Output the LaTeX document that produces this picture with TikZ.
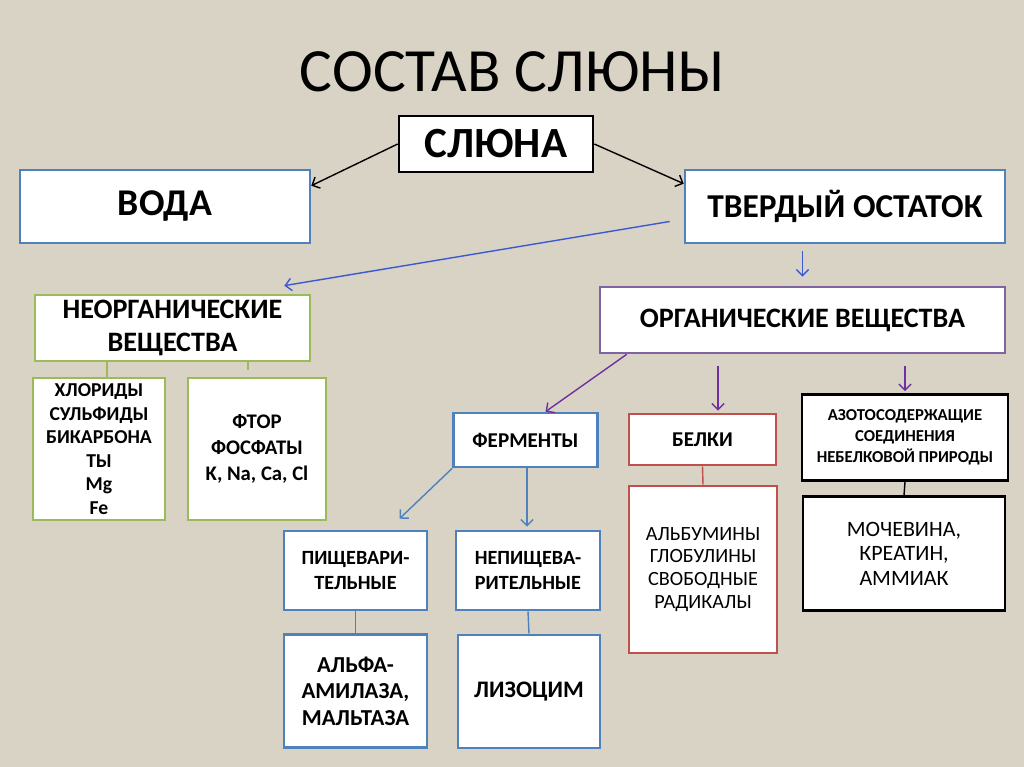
\documentclass[tikz,border=0pt]{standalone}
\usepackage{fontspec}
\setmainfont{Carlito}
\usepackage{xcolor}
\usetikzlibrary{arrows.meta}

\definecolor{paper}{RGB}{217,211,197}
\definecolor{boxblue}{RGB}{79,129,189}
\definecolor{boxgreen}{RGB}{155,187,89}
\definecolor{boxpurple}{RGB}{128,100,162}
\definecolor{boxred}{RGB}{192,80,77}
\definecolor{linkblue}{RGB}{59,89,212}
\definecolor{linkpurple}{RGB}{112,48,160}

\newcommand{\fsz}[2]{\fontsize{#1}{#2}\selectfont}

\begin{document}
\begin{tikzpicture}[
  x=0.02cm, y=-0.02cm,
  every node/.style={align=center},
  box/.style={draw, fill=white, line width=1.5pt, inner sep=2pt},
  blackbox/.style={box, draw=black},
  bluebox/.style={box, draw=boxblue},
  greenbox/.style={box, draw=boxgreen},
  purplebox/.style={box, draw=boxpurple},
  redbox/.style={box, draw=boxred},
  link/.style={line width=0.8pt},
  >={Straight Barb[length=3.5pt,width=7pt]}
]

\fill[paper] (0,0) rectangle (1024,767);
\useasboundingbox (0,0) rectangle (1024,767);

\node (title) [font=\fsz{35}{40}] at (512,72) {СОСТАВ СЛЮНЫ};

% Top row
\node (saliva) [blackbox, minimum width=3.88cm, minimum height=1.12cm,
  font=\fsz{24.5}{28}\bfseries] at (496,144) {СЛЮНА};
\node (water) [bluebox, minimum width=5.8cm, minimum height=1.46cm,
  font=\fsz{21.5}{24}\bfseries] at (165,206.5) {ВОДА};
\node (solid) [bluebox, minimum width=6.4cm, minimum height=1.46cm,
  font=\fsz{19}{22}\bfseries] at (845,206.5) {ТВЕРДЫЙ ОСТАТОК};

\draw[link, ->] (saliva.west) -- ([yshift=-0.34cm]water.north east);
\draw[link, ->] (saliva.east) -- ([yshift=-0.3cm]solid.north west);

% Second row
\node (inorg) [greenbox, minimum width=5.5cm, minimum height=1.32cm,
  font=\fsz{16}{18.5}\bfseries] at (172.5,328) {НЕОРГАНИЧЕСКИЕ\\ВЕЩЕСТВА};
\node (org) [purplebox, minimum width=8.1cm, minimum height=1.32cm,
  font=\fsz{16}{18}\bfseries] at (802.5,320) {ОРГАНИЧЕСКИЕ ВЕЩЕСТВА};

\draw[link, linkblue, ->] ([xshift=-0.28cm,yshift=-0.3cm]solid.west)
  -- ([xshift=-0.54cm,yshift=0.16cm]inorg.north east);
\draw[link, linkblue, ->] ([yshift=-0.14cm]solid.south -| org.north)
  -- ([yshift=0.18cm]org.north);

% Inorganic part
\node (chlor) [greenbox, inner sep=0.5pt, minimum width=2.64cm, minimum height=2.84cm,
  font=\fsz{11.2}{13.4}\bfseries] at (99,449)
  {ХЛОРИДЫ\\СУЛЬФИДЫ\\БИКАРБОНА\\ТЫ\\Mg\\Fe};
\node (fluor) [greenbox, minimum width=2.76cm, minimum height=2.84cm,
  font=\fsz{11.8}{14.7}\bfseries] at (257,449)
  {ФТОР\\ФОСФАТЫ\\K, Na, Ca, Cl};

\draw[link, boxgreen] ([xshift=0.16cm]chlor.north |- inorg.south)
  -- ([xshift=0.16cm]chlor.north);
\draw[link, boxgreen] ([xshift=-0.18cm]fluor.north |- inorg.south) -- ++(0,8);

% Organic part
\node (enzymes) [bluebox, minimum width=2.88cm, minimum height=1.08cm,
  font=\fsz{12}{14}\bfseries] at (525.5,440) {ФЕРМЕНТЫ};
\node (proteins) [redbox, minimum width=2.94cm, minimum height=1.02cm,
  font=\fsz{12}{14}\bfseries] at (702.5,439.5) {БЕЛКИ};
\node (nitro) [blackbox, minimum width=4.12cm, minimum height=1.72cm,
  font=\fsz{9.5}{12}\bfseries] at (905,437.5)
  {АЗОТОСОДЕРЖАЩИЕ\\СОЕДИНЕНИЯ\\НЕБЕЛКОВОЙ ПРИРОДЫ};

\draw[link, linkpurple, ->] ([xshift=0.56cm]org.south west)
  -- ([xshift=0.4cm]enzymes.north);
\draw[link, linkpurple, ->] ([xshift=0.31cm,yshift=-0.24cm]proteins.north |- org.south)
  -- ([xshift=0.31cm,yshift=0.04cm]proteins.north);
\draw[link, linkpurple, ->] ([yshift=-0.24cm]nitro.north |- org.south)
  -- ([yshift=0.04cm]nitro.north);

\node (albumin) [redbox, minimum width=2.96cm, minimum height=3.34cm,
  font=\fsz{11.5}{13}] at (703,569.5)
  {АЛЬБУМИНЫ\\ГЛОБУЛИНЫ\\СВОБОДНЫЕ\\РАДИКАЛЫ};
\node (urea) [blackbox, minimum width=4.04cm, minimum height=2.28cm,
  font=\fsz{12.5}{14}] at (904,553.5)
  {МОЧЕВИНА,\\КРЕАТИН,\\АММИАК};

\draw[link, boxred] (proteins.south) -- (albumin.north);
\draw[link, black] (nitro.south) -- (urea.north);

% Enzymes
\node (digest) [bluebox, minimum width=2.86cm, minimum height=1.58cm,
  font=\fsz{11.5}{14}\bfseries] at (355.5,570.5) {ПИЩЕВАРИ-\\ТЕЛЬНЫЕ};
\node (nondig) [bluebox, minimum width=2.88cm, minimum height=1.58cm,
  font=\fsz{11.5}{14}\bfseries] at (528,570.5) {НЕПИЩЕВА-\\РИТЕЛЬНЫЕ};
\node (amylase) [bluebox, minimum width=2.86cm, minimum height=2.26cm,
  font=\fsz{13}{15}\bfseries] at (355.5,691) {АЛЬФА-\\АМИЛАЗА,\\МАЛЬТАЗА};
\node (lysozyme) [bluebox, minimum width=2.84cm, minimum height=2.26cm,
  font=\fsz{13.5}{15}\bfseries] at (529,691.5) {ЛИЗОЦИМ};

\draw[link, boxblue, ->] (enzymes.south west)
  -- ([xshift=0.88cm,yshift=0.22cm]digest.north);
\draw[link, boxblue, ->] ([xshift=0.03cm]enzymes.south)
  -- ([xshift=0.03cm,yshift=0.06cm]enzymes.south |- nondig.north);
\draw[link, boxblue] (digest.south) -- (amylase.north);
\draw[link, boxblue] (nondig.south) -- (lysozyme.north);
\end{tikzpicture}
\end{document}
